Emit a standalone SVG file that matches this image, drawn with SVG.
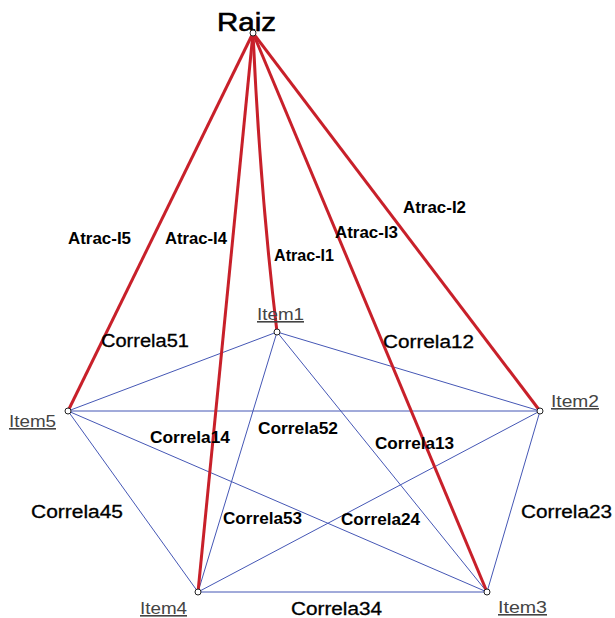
<svg xmlns="http://www.w3.org/2000/svg" width="615" height="618" viewBox="0 0 615 618">
<style>
.red{stroke:#c8202a;stroke-width:3;fill:none}
.blue{stroke:#4557b5;stroke-width:1;fill:none}
.dot{fill:#fff;stroke:#222;stroke-width:1}
.sm{font-family:"Liberation Sans",Arial,sans-serif;font-weight:bold;font-size:16px;fill:#000}
.lg{font-family:"Liberation Sans",Arial,sans-serif;font-size:18px;fill:#000;stroke:#000;stroke-width:0.3}
.item{font-family:"Liberation Sans",Arial,sans-serif;font-size:16px;fill:#444;text-decoration:underline}
.root{font-family:"Liberation Sans",Arial,sans-serif;font-size:25px;fill:#000;stroke:#000;stroke-width:0.6}
</style>
<rect width="615" height="618" fill="#fff"/>
<g id="connectors">
<line class="blue" x1="277" y1="332" x2="540" y2="411"/>
<line class="blue" x1="277" y1="332" x2="487" y2="592"/>
<line class="blue" x1="277" y1="332" x2="198" y2="592"/>
<line class="blue" x1="277" y1="332" x2="68" y2="411"/>
<line class="blue" x1="540" y1="411" x2="487" y2="592"/>
<line class="blue" x1="540" y1="411" x2="198" y2="592"/>
<line class="blue" x1="540" y1="411" x2="68" y2="411"/>
<line class="blue" x1="487" y1="592" x2="198" y2="592"/>
<line class="blue" x1="487" y1="592" x2="68" y2="411"/>
<line class="blue" x1="198" y1="592" x2="68" y2="411"/>
<path class="red" d="M253,33 Q260,190 277,332"/>
<line class="red" x1="253" y1="33" x2="540" y2="411"/>
<line class="red" x1="253" y1="33" x2="487" y2="592"/>
<line class="red" x1="253" y1="33" x2="198" y2="592"/>
<line class="red" x1="253" y1="33" x2="68" y2="411"/>
<text class="sm" x="68" y="244" textLength="63" lengthAdjust="spacingAndGlyphs">Atrac-I5</text>
<text class="sm" x="165" y="244" textLength="62" lengthAdjust="spacingAndGlyphs">Atrac-I4</text>
<text class="sm" x="274" y="261" textLength="60" lengthAdjust="spacingAndGlyphs">Atrac-I1</text>
<text class="sm" x="403" y="213" textLength="63" lengthAdjust="spacingAndGlyphs">Atrac-I2</text>
<text class="sm" x="335" y="238" textLength="63" lengthAdjust="spacingAndGlyphs">Atrac-I3</text>
<text class="lg" x="101" y="347" textLength="88" lengthAdjust="spacingAndGlyphs">Correla51</text>
<text class="lg" x="383" y="348" textLength="91" lengthAdjust="spacingAndGlyphs">Correla12</text>
<text class="lg" x="31" y="518" textLength="92" lengthAdjust="spacingAndGlyphs">Correla45</text>
<text class="lg" x="521" y="518" textLength="91" lengthAdjust="spacingAndGlyphs">Correla23</text>
<text class="lg" x="291" y="615" textLength="91" lengthAdjust="spacingAndGlyphs">Correla34</text>
<text class="sm" x="150" y="443" textLength="80" lengthAdjust="spacingAndGlyphs">Correla14</text>
<text class="sm" x="258" y="434" textLength="80" lengthAdjust="spacingAndGlyphs">Correla52</text>
<text class="sm" x="375" y="449" textLength="79" lengthAdjust="spacingAndGlyphs">Correla13</text>
<text class="sm" x="223" y="524" textLength="79" lengthAdjust="spacingAndGlyphs">Correla53</text>
<text class="sm" x="341" y="525" textLength="79" lengthAdjust="spacingAndGlyphs">Correla24</text>
</g>
<g id="Raiz">
<text class="root" x="217" y="31" textLength="59" lengthAdjust="spacingAndGlyphs">Raiz</text>
<circle class="dot" cx="253" cy="33" r="3"/>
</g>
<g id="Item1">
<text class="item" x="257" y="320" textLength="47" lengthAdjust="spacingAndGlyphs">Item1</text>
<circle class="dot" cx="277" cy="332" r="3"/>
</g>
<g id="Item2">
<text class="item" x="551" y="407" textLength="48" lengthAdjust="spacingAndGlyphs">Item2</text>
<circle class="dot" cx="540" cy="411" r="3"/>
</g>
<g id="Item3">
<text class="item" x="498" y="613" textLength="49" lengthAdjust="spacingAndGlyphs">Item3</text>
<circle class="dot" cx="487" cy="592" r="3"/>
</g>
<g id="Item4">
<text class="item" x="140" y="614" textLength="47" lengthAdjust="spacingAndGlyphs">Item4</text>
<circle class="dot" cx="198" cy="592" r="3"/>
</g>
<g id="Item5">
<text class="item" x="9" y="427" textLength="47" lengthAdjust="spacingAndGlyphs">Item5</text>
<circle class="dot" cx="68" cy="411" r="3"/>
</g>
</svg>
